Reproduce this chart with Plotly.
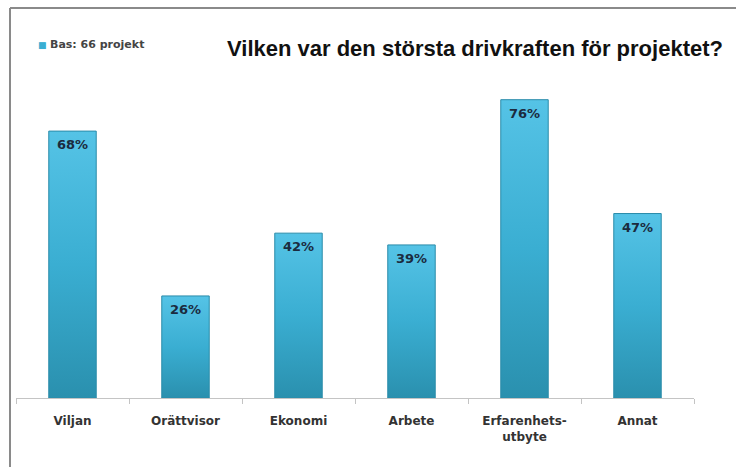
import plotly.graph_objects as go

categories = ["Viljan", "Orättvisor", "Ekonomi", "Arbete", "Erfarenhets-<br>utbyte", "Annat"]
values = [68, 26, 42, 39, 76, 47]
value_labels = ["68%", "26%", "42%", "39%", "76%", "47%"]
legend_name = "Bas: 66 projekt"
title_text = "Vilken var den största drivkraften för projektet?"

W, H = 736, 467
ml, mr, mt, mb = 16, 42, 84, 69
pw, ph = W - ml - mr, H - mt - mb
half_w = 0.21  # half bar width in category units

def px_x(x):
    return (x - ml) / pw

def px_y(y):
    return (H - mb - y) / ph

fig = go.Figure()
positions = list(range(len(categories)))
for i, v in zip(positions, values):
    fig.add_trace(go.Scatter(
        x=[i - half_w, i - half_w, i + half_w, i + half_w, i - half_w],
        y=[0, v, v, 0, 0],
        mode="lines", fill="toself",
        line=dict(color="#2a8caa", width=1),
        fillgradient=dict(type="vertical",
                          colorscale=[[0, "#2a90ae"], [0.5, "#3aaed2"], [1, "#55c3e6"]]),
        hoverinfo="skip", showlegend=False,
    ))

for i, v, lab in zip(positions, values, value_labels):
    fig.add_annotation(
        x=i, y=v, text=f"<b>{lab}</b>", showarrow=False,
        yanchor="top", yshift=-4,
        font=dict(family="DejaVu Sans", size=13, color="#1b2b3f"),
    )

fig.update_layout(
    width=W, height=H,
    margin=dict(l=ml, r=mr, t=mt, b=mb),
    paper_bgcolor="white", plot_bgcolor="white",
    xaxis=dict(
        range=[-0.5, len(categories) - 0.5],
        tickmode="array", tickvals=positions, ticktext=categories,
        showline=True, linecolor="#c4c4c4", linewidth=1,
        ticks="", ticklabelstandoff=12,
        minor=dict(tickmode="array", tickvals=[p - 0.5 for p in positions] + [len(categories) - 0.5],
                   ticks="outside", ticklen=5, tickcolor="#c4c4c4", showgrid=False),
        tickfont=dict(family="DejaVu Sans", size=12, color="#333333", weight="bold"),
        showgrid=False, zeroline=False, fixedrange=True,
    ),
    yaxis=dict(range=[0, 80], visible=False, showgrid=False, zeroline=False, fixedrange=True),
    showlegend=False,
)

# frame
fig.add_shape(type="line", xref="paper", yref="paper",
              x0=px_x(10), x1=px_x(740), y0=px_y(8), y1=px_y(8),
              line=dict(color="#8a8a8a", width=2))
fig.add_shape(type="line", xref="paper", yref="paper",
              x0=px_x(10), x1=px_x(10), y0=px_y(8), y1=px_y(470),
              line=dict(color="#8a8a8a", width=2))

fig.add_annotation(
    text=f"<b>{title_text}</b>", xref="paper", yref="paper",
    x=px_x(725), y=px_y(48), xanchor="right", yanchor="middle",
    showarrow=False, font=dict(family="Liberation Sans", size=22, color="#111111"),
)
fig.add_annotation(
    text=f"<span style='color:#3aaed2;font-size:9px'>■</span> <b>{legend_name}</b>",
    xref="paper", yref="paper",
    x=px_x(36), y=px_y(45), xanchor="left", yanchor="middle",
    showarrow=False, font=dict(family="DejaVu Sans", size=11, color="#444444"),
)

fig.write_html("out.html", config={"displayModeBar": False},
               post_script="document.body.style.margin='0';document.body.style.overflow='hidden';")
